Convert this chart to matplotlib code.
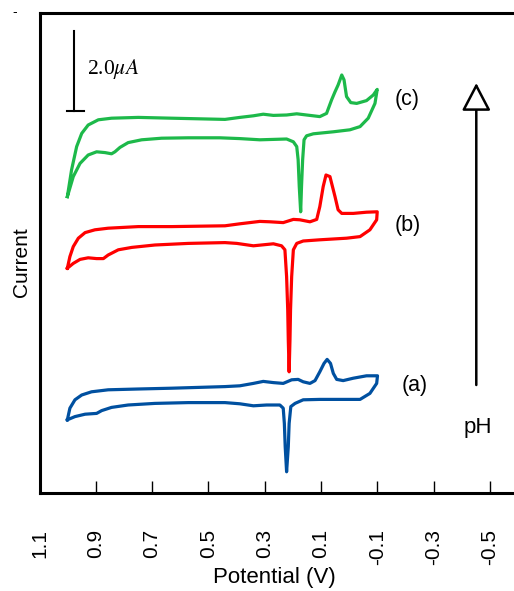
import matplotlib
matplotlib.use('Agg')
import matplotlib.pyplot as plt

plt.rcParams['font.family'] = ['Liberation Sans', 'DejaVu Sans']
plt.rcParams['mathtext.fontset'] = 'stix'

# (c) green, highest pH
c_fwd_E = [1.001, 0.986, 0.968, 0.950, 0.927, 0.891, 0.844, 0.749, 0.630, 0.441,
           0.388, 0.340, 0.305, 0.269, 0.222, 0.186, 0.151, 0.104, 0.080, 0.062,
           0.050, 0.039, 0.026, 0.018, 0.009, -0.006, -0.027, -0.062, -0.086, -0.100]
c_fwd_I = [7.41, 8.08, 8.66, 8.99, 9.20, 9.33, 9.37, 9.39, 9.37, 9.34,
           9.39, 9.43, 9.47, 9.44, 9.45, 9.48, 9.45, 9.41, 9.49, 9.83,
           10.03, 10.20, 10.45, 10.33, 9.91, 9.76, 9.74, 9.81, 9.95, 10.09]
c_rev_E = [-0.092, -0.068, -0.039, -0.003, 0.056, 0.127, 0.151, 0.160, 0.165, 0.169,
           0.172, 0.177, 0.181, 0.186, 0.198, 0.222, 0.269, 0.317, 0.388, 0.459,
           0.571, 0.666, 0.737, 0.785, 0.814, 0.832, 0.844, 0.867, 0.897, 0.927,
           0.956, 0.980, 1.001]
c_rev_I = [9.74, 9.37, 9.16, 9.08, 9.03, 8.98, 8.93, 8.83, 8.33, 7.66,
           7.03, 7.66, 8.33, 8.66, 8.78, 8.85, 8.84, 8.83, 8.86, 8.88,
           8.88, 8.87, 8.83, 8.76, 8.64, 8.53, 8.48, 8.51, 8.53, 8.45,
           8.24, 7.91, 7.41]

# (b) red
b_fwd_E = [1.001, 0.992, 0.980, 0.962, 0.938, 0.903, 0.856, 0.749, 0.630, 0.441,
           0.388, 0.317, 0.281, 0.234, 0.198, 0.175, 0.139, 0.115, 0.104, 0.092,
           0.082, 0.068, 0.050, 0.039, 0.026, -0.015, -0.062, -0.100]
b_fwd_I = [5.62, 5.91, 6.16, 6.37, 6.51, 6.58, 6.62, 6.66, 6.66, 6.68,
           6.73, 6.79, 6.78, 6.76, 6.84, 6.83, 6.78, 6.84, 7.16, 7.66,
           7.95, 7.91, 7.41, 7.08, 6.99, 6.99, 7.02, 7.03]
b_rev_E = [-0.098, -0.074, -0.039, 0.009, 0.104, 0.163, 0.186, 0.198, 0.204, 0.208,
           0.210, 0.213, 0.216, 0.218, 0.222, 0.228, 0.240, 0.269, 0.340, 0.399,
           0.441, 0.571, 0.690, 0.772, 0.820, 0.856, 0.873, 0.897, 0.927, 0.956,
           0.980, 1.001]
b_rev_I = [6.83, 6.58, 6.41, 6.37, 6.33, 6.30, 6.24, 6.08, 5.41, 4.58,
           3.83, 3.03, 3.83, 4.58, 5.41, 6.08, 6.18, 6.23, 6.18, 6.24,
           6.26, 6.24, 6.20, 6.14, 6.08, 5.95, 5.86, 5.86, 5.88, 5.84,
           5.74, 5.62]

# (a) blue, lowest pH
a_fwd_E = [1.001, 0.992, 0.974, 0.950, 0.915, 0.856, 0.749, 0.630, 0.441, 0.388,
           0.340, 0.305, 0.269, 0.234, 0.204, 0.181, 0.163, 0.139, 0.121, 0.104,
           0.089, 0.078, 0.066, 0.056, 0.044, 0.021, -0.015, -0.062, -0.101]
a_fwd_I = [1.83, 2.12, 2.33, 2.45, 2.53, 2.58, 2.60, 2.62, 2.66, 2.68,
           2.74, 2.79, 2.76, 2.74, 2.83, 2.84, 2.78, 2.74, 2.81, 3.03,
           3.24, 3.34, 3.24, 2.99, 2.84, 2.81, 2.87, 2.93, 2.93]
a_rev_E = [-0.098, -0.074, -0.039, 0.009, 0.104, 0.163, 0.192, 0.207, 0.213, 0.216,
           0.222, 0.227, 0.230, 0.234, 0.246, 0.293, 0.340, 0.388, 0.441, 0.571,
           0.690, 0.785, 0.844, 0.879, 0.897, 0.938, 0.974, 1.001]
a_rev_I = [2.74, 2.49, 2.34, 2.34, 2.34, 2.33, 2.24, 2.16, 1.74, 1.16,
           0.53, 1.16, 1.74, 2.12, 2.20, 2.20, 2.18, 2.23, 2.26, 2.26,
           2.24, 2.20, 2.14, 2.06, 1.99, 1.97, 1.91, 1.83]

xticks = [1.1, 0.9, 0.7, 0.5, 0.3, 0.1, -0.1, -0.3, -0.5]
xticklabels = ['1.1', '0.9', '0.7', '0.5', '0.3', '0.1', '-0.1', '-0.3', '-0.5']

fig = plt.figure(figsize=(5.14, 5.91), dpi=100)
ax = fig.add_axes([39.5/514, 98/591, 474.5/514, 480/591])

lw = 2.3
ax.plot(a_fwd_E + a_rev_E, a_fwd_I + a_rev_I, color='#0050a0', lw=lw, solid_joinstyle='round')
ax.plot(b_fwd_E + b_rev_E, b_fwd_I + b_rev_I, color='#ff0000', lw=lw, solid_joinstyle='round')
ax.plot(c_fwd_E + c_rev_E, c_fwd_I + c_rev_I, color='#1db94a', lw=lw, solid_joinstyle='round')

ax.set_xlim(1.1, -0.586)
ax.set_ylim(0, 12)
ax.set_xticks(xticks)
ax.set_xticklabels(xticklabels, rotation=90, fontsize=15)
ax.set_yticks([])
ax.tick_params(axis='x', direction='in', length=9, width=1, pad=26)
for s in ['left', 'bottom', 'top']:
    ax.spines[s].set_linewidth(2.2)
ax.spines['right'].set_visible(False)

fig.text(274/514, 1 - 578/591, 'Potential (V)', fontsize=16, ha='center', va='center')
fig.text(21/514, 1 - 262/591, 'Current', fontsize=15, rotation=90, ha='center', va='center')

# scale bar
ax.plot([0.979, 0.979], [9.55, 11.55], color='black', lw=1.5)
ax.plot([1.003, 0.942], [9.55, 9.55], color='black', lw=1.5)
ax.text(0.930, 10.6, r'2.0$\mu A$', fontsize=15.5, family='Liberation Serif',
        ha='left', va='center')

# labels
ax.text(-0.206, 9.83, '(c)', fontsize=15.5, ha='center', va='center')
ax.text(-0.209, 6.70, '(b)', fontsize=15.5, ha='center', va='center')
ax.text(-0.234, 2.70, '(a)', fontsize=15.5, ha='center', va='center')

# pH arrow
ax.annotate('', xy=(-0.452, 10.25), xytext=(-0.452, 2.70),
            arrowprops=dict(arrowstyle='-|>,head_length=0.86,head_width=0.45',
                            mutation_scale=20, fc='white', ec='black', lw=1.8,
                            shrinkA=0, shrinkB=0))
ax.text(-0.458, 1.63, 'pH', fontsize=16, ha='center', va='center')

fig.text(15/514, 1 - 12/591, '-', fontsize=10, ha='center', va='center')

fig.savefig('out.png', dpi=100)
